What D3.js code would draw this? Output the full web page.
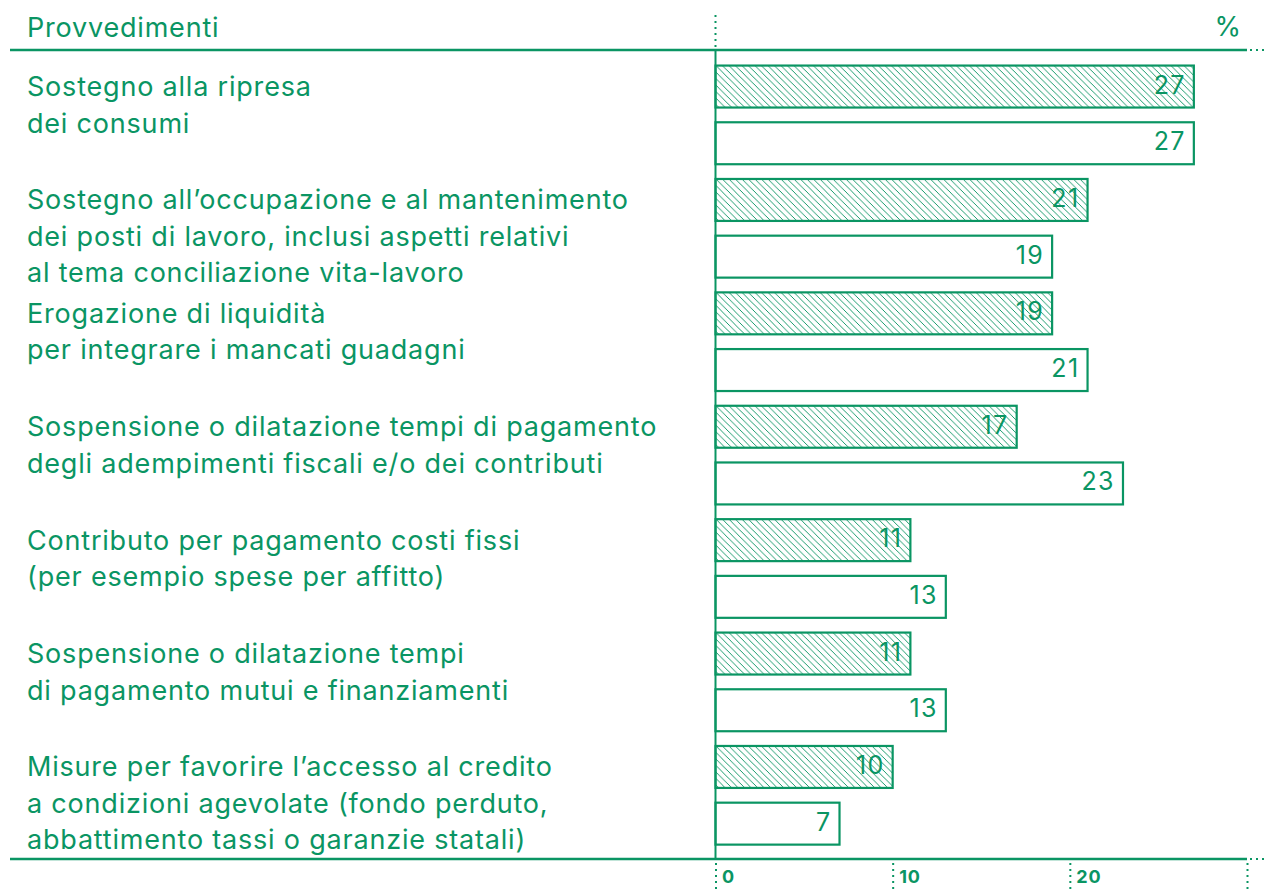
<!DOCTYPE html>
<html><head><meta charset="utf-8">
<script src="https://cdn.jsdelivr.net/npm/d3@7"></script>
<style>
html,body{margin:0;padding:0;background:#fff;}
svg{display:block;font-family:Inter,"Noto Sans",sans-serif;}
</style></head>
<body>
<script>
const categories = [
  ["Sostegno alla ripresa","dei consumi"],
  ["Sostegno all\u2019occupazione e al mantenimento","dei posti di lavoro, inclusi aspetti relativi","al tema conciliazione vita-lavoro"],
  ["Erogazione di liquidità","per integrare i mancati guadagni"],
  ["Sospensione o dilatazione tempi di pagamento","degli adempimenti fiscali e/o dei contributi"],
  ["Contributo per pagamento costi fissi","(per esempio spese per affitto)"],
  ["Sospensione o dilatazione tempi","di pagamento mutui e finanziamenti"],
  ["Misure per favorire l\u2019accesso al credito","a condizioni agevolate (fondo perduto,","abbattimento tassi o garanzie statali)"]
];
const seriesNames = ["hatched","outline"];
const hatchedValues = [27,21,19,17,11,11,10];
const outlineValues = [27,19,21,23,13,13,7];
const tickValues = [0,10,20,30];
const tickLabels = ["0","10","20",""];
const headerLabel = "Provvedimenti";
const unitLabel = "%";

const W = 1267, H = 890, C = "#0a9563";
const FS = 27, LS = 0.8;
const svg = d3.select("body").append("svg").attr("width",W).attr("height",H);
const defs = svg.append("defs");
const pat = defs.append("pattern").attr("id","hatch").attr("patternUnits","userSpaceOnUse")
  .attr("width",6.5).attr("height",6.5);
pat.append("path").attr("d","M-1,-1 L7.5,7.5 M-7.5,-1 L1,7.5 M5.5,-1 L14,7.5")
  .attr("stroke",C).attr("stroke-width",1).attr("shape-rendering","crispEdges");

const x = d3.scaleLinear().domain([0,30]).range([715.5,1247]);
const keys = categories.map((d,i)=>i);
const y0 = d3.scaleBand().domain(keys).range([58.2,852]);
const y1 = d3.scaleBand().domain(seriesNames).range([0,y0.bandwidth()]).paddingInner(0.26).paddingOuter(0.13);

const data = keys.map(i=>({i, lines:categories[i], vals:[{s:"hatched",v:hatchedValues[i]},{s:"outline",v:outlineValues[i]}]}));

// header
svg.append("text").attr("x",27).attr("y",28).attr("dy","0.35em").attr("font-size",FS).attr("letter-spacing",LS).attr("fill",C).text(headerLabel);
svg.append("text").attr("x",1241).attr("y",27).attr("dy","0.35em").attr("text-anchor","end").attr("font-size",FS).attr("fill",C).text(unitLabel);

// dotted vertical at zero in header
svg.append("line").attr("x1",x(0)).attr("x2",x(0)).attr("y1",15).attr("y2",49)
  .attr("stroke",C).attr("stroke-width",2).attr("stroke-dasharray","2,4");

// header and bottom lines
[50,859].forEach(yy=>{
  svg.append("line").attr("x1",10).attr("x2",x(30)).attr("y1",yy).attr("y2",yy).attr("stroke",C).attr("stroke-width",2.5);
  svg.append("line").attr("x1",x(30)+3).attr("x2",W).attr("y1",yy).attr("y2",yy).attr("stroke",C).attr("stroke-width",2).attr("stroke-dasharray","2,4");
});

// groups
const g = svg.selectAll("g.grp").data(data).join("g").attr("class","grp").attr("transform",d=>`translate(0,${y0(d.i)})`);
g.selectAll("rect").data(d=>d.vals).join("rect")
  .attr("x",x(0)).attr("y",d=>y1(d.s)).attr("width",d=>x(d.v)-x(0)).attr("height",y1.bandwidth())
  .attr("fill",d=>d.s==="hatched"?"url(#hatch)":"#fff").attr("stroke",C).attr("stroke-width",2.2);
g.selectAll("text.val").data(d=>d.vals).join("text").attr("class","val")
  .attr("x",d=>x(d.v)-8).attr("y",d=>y1(d.s)+y1.bandwidth()/2-2).attr("dy","0.36em")
  .attr("text-anchor","end").attr("font-size",25).attr("letter-spacing",1.4).attr("fill",C).text(d=>d.v);
g.each(function(d){
  const t = d3.select(this).append("text").attr("font-size",FS).attr("letter-spacing",LS).attr("fill",C);
  d.lines.forEach((ln,k)=>{
    t.append("tspan").attr("x",27).attr("y",y1(seriesNames[0])+21+k*36.5).attr("dy","0.35em").text(ln);
  });
});

// axis vertical line
svg.append("line").attr("x1",x(0)).attr("x2",x(0)).attr("y1",50).attr("y2",859).attr("stroke",C).attr("stroke-width",2);

// bottom axis
const axis = d3.axisBottom(x).tickValues(tickValues).tickSize(0).tickFormat((d,i)=>tickLabels[i]);
const ax = svg.append("g").attr("transform","translate(0,861)").call(axis);
ax.select(".domain").remove();
ax.selectAll(".tick line").attr("y1",2).attr("y2",30).attr("stroke",C).attr("stroke-width",2).attr("stroke-dasharray","2,4");
ax.selectAll(".tick text").attr("x",6).attr("y",16).attr("dy","0.36em").attr("text-anchor","start")
  .attr("font-size",18).attr("letter-spacing",0.8).attr("font-weight","bold").attr("fill",C).attr("font-family","Inter,'Noto Sans',sans-serif");
</script>
</body></html>
